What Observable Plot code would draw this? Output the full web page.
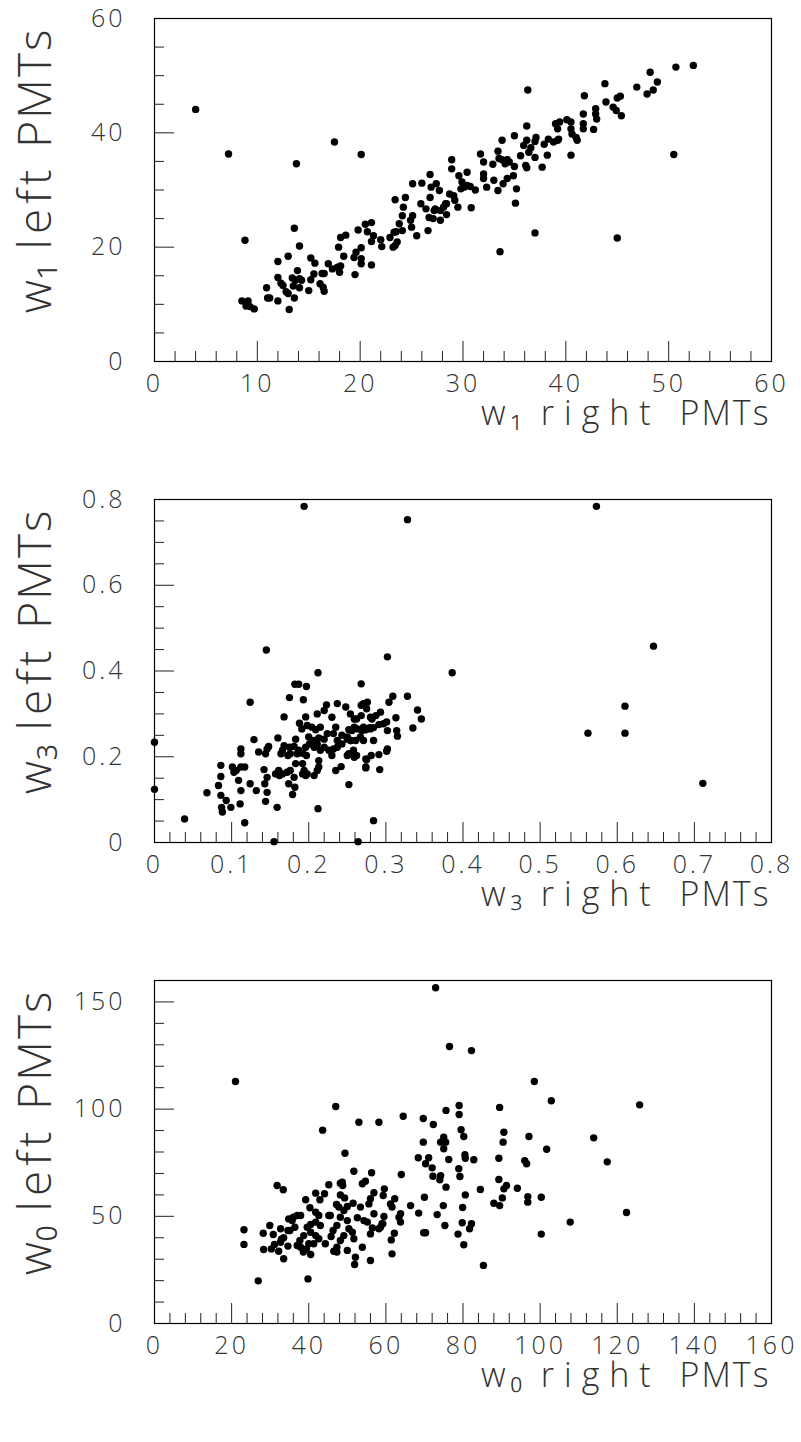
<!DOCTYPE html>
<html><head><meta charset="utf-8">
<script src="https://cdn.jsdelivr.net/npm/d3@7"></script>
<script src="https://cdn.jsdelivr.net/npm/@observablehq/plot@0.6"></script>
<style>body{margin:0;background:#fff} svg{display:block}</style>
</head><body><div id="chart"></div>
<script>
// ---- Panel 1: w1 ----
const w1Right = [4.0,7.2,8.8,17.5,20.1,13.8,13.6,14.1,23.4,
8.5,9.1,8.9,9.3,9.7,10.9,11.0,11.2,12.0,12.0,12.0,12.3,12.5,12.8,13.0,13.1,13.0,13.4,13.7,13.5,13.6,13.9,14.1,14.3,14.1,15.0,15.2,15.2,15.5,15.6,16.1,16.4,16.5,16.3,16.5,16.9,17.3,17.8,18.0,18.1,17.9,18.1,18.6,18.4,19.4,19.5,19.6,19.8,20.1,20.1,20.1,20.5,20.7,21.1,21.1,21.1,21.3,22.0,22.1,22.9,23.4,23.5,23.8,
23.3,23.6,23.2,24.1,24.2,24.9,25.1,25.5,25.9,26.6,26.7,
52.4,50.7,48.2,48.9,48.5,47.9,46.9,43.8,41.8,36.3,45.0,45.3,44.6,44.9,45.4,43.9,42.9,42.9,43.0,41.7,41.7,41.7,42.7,40.1,40.5,39.4,39.0,39.2,40.5,40.6,41.0,41.1,40.5,36.2,39.2,39.3,38.3,38.8,37.9,38.2,37.7,
37.1,37.0,36.2,35.9,36.6,36.4,37.0,36.1,36.2,35.6,35.0,33.8,33.4,33.5,
33.8,34.3,34.1,34.5,35.0,34.9,35.2,35.1,34.3,33.9,33.4,33.0,32.9,32.0,31.7,32.0,32.0,32.3,
31.2,30.7,30.4,30.1,29.8,29.9,29.6,28.9,28.9,30.4,30.8,29.5,29.2,29.1,28.7,28.4,28.1,27.8,27.8,27.2,26.8,26.9,26.8,27.4,27.7,26.0,25.1,24.4,24.1,25.0,26.4,27.1,27.3,28.4,28.3,
33.6,37.0,45.0,50.5];
const w1Left = [44.1,36.3,21.2,38.4,36.2,34.6,23.3,20.2,28.3,
10.6,10.6,9.7,9.6,9.2,12.9,11.1,11.1,17.5,10.6,14.7,13.7,13.3,12.2,11.9,9.1,18.4,14.6,14.2,13.2,11.1,15.9,14.5,14.2,12.9,12.4,18.1,14.3,15.3,17.2,13.6,13.0,12.3,15.4,15.4,17.1,16.2,16.5,15.6,16.7,20.0,21.7,22.1,18.4,18.2,15.2,19.1,23.0,19.9,18.0,17.1,24.0,22.7,24.3,21.0,16.9,22.0,21.3,20.1,21.7,20.3,22.7,24.1,
22.6,20.9,20.0,25.5,27.0,24.7,25.5,22.0,27.6,22.9,25.2,
51.8,51.5,50.6,48.9,47.5,46.8,48.0,48.6,46.5,47.5,46.1,46.4,44.5,43.9,43.0,45.4,44.2,43.3,42.4,43.3,41.6,40.7,40.6,42.3,41.9,41.9,41.6,40.7,40.7,39.8,39.2,38.7,36.1,41.2,38.7,38.9,38.9,38.4,38.0,36.1,34.0,
39.2,38.5,38.7,37.8,37.4,36.6,35.7,34.3,33.9,36.0,39.5,38.7,36.8,35.5,
35.3,35.3,34.6,34.9,34.1,32.5,30.2,27.7,32.0,31.1,29.9,31.7,34.5,34.9,36.3,32.8,32.0,30.5,
30.0,30.6,30.8,30.5,30.2,31.4,32.5,33.7,35.3,33.1,26.9,27.0,28.2,29.0,29.3,27.6,27.0,26.4,24.7,26.4,28.7,30.5,32.7,31.1,29.9,31.2,31.1,28.7,22.9,23.5,26.7,25.0,26.7,25.7,27.6,
19.2,22.5,21.6,36.2];
const w1XTicks = [0,10,20,30,40,50,60];
const w1XMinor = [2,4,6,8,12,14,16,18,22,24,26,28,32,34,36,38,42,44,46,48,52,54,56,58];
const w1YTicks = [0,20,40,60];
const w1YMinor = [5,10,15,25,30,35,45,50,55];

// ---- Panel 2: w3 ----
const w3Right = [0.194,0.145,0.212,0.302,0.000,0.000,0.039,0.117,0.212,0.155,0.264,0.284,0.252,
0.328,0.573,0.386,0.647,0.610,0.562,0.610,0.711,0.328,0.341,0.346,0.335,
0.268,0.182,0.187,0.197,0.175,0.193,0.124,0.168,0.196,
0.211,0.220,0.223,0.230,0.237,0.248,0.254,0.259,0.268,0.271,0.276,0.280,0.275,
0.188,0.191,0.198,0.204,0.209,0.215,0.200,0.207,0.213,0.220,0.224,0.232,0.235,0.237,0.243,0.250,0.256,0.263,0.271,0.254,0.261,0.271,0.280,
0.160,0.183,0.181,0.175,0.173,0.176,0.185,0.187,0.192,0.197,0.196,0.201,0.207,0.211,0.215,0.220,0.226,0.232,0.230,0.237,0.243,0.250,0.258,0.262,0.274,0.274,
0.129,0.135,0.144,0.148,0.146,0.164,0.168,0.166,
0.183,0.192,0.194,0.198,0.207,0.211,0.213,0.213,0.192,0.196,
0.161,0.166,0.172,0.176,0.181,0.174,0.179,0.182,0.162,0.157,
0.142,0.146,0.143,0.146,0.144,0.159,0.132,0.124,0.112,0.109,0.106,0.111,0.103,0.101,0.112,0.117,0.112,0.112,0.099,0.093,0.086,0.087,0.088,0.083,0.086,0.086,0.068,
0.309,0.304,0.293,0.287,0.282,0.313,0.301,0.297,0.291,0.302,0.314,0.315,0.284,0.279,0.274,0.269,0.267,0.284,0.302,0.301,0.291,0.281,0.275,0.274,0.292,0.259,0.252,0.255,0.250,0.252,0.259,0.262,0.268,0.242,0.235];
const w3Left = [0.784,0.449,0.396,0.433,0.234,0.124,0.055,0.046,0.079,0.002,0.002,0.051,0.135,
0.753,0.784,0.396,0.458,0.318,0.255,0.255,0.138,0.341,0.309,0.288,0.267,
0.370,0.369,0.369,0.364,0.338,0.333,0.327,0.293,0.293,
0.300,0.308,0.321,0.292,0.324,0.316,0.300,0.288,0.320,0.324,0.327,0.292,0.312,
0.278,0.265,0.273,0.269,0.263,0.269,0.246,0.238,0.244,0.241,0.254,0.254,0.269,0.238,0.250,0.246,0.261,0.265,0.269,0.238,0.238,0.238,0.265,
0.244,0.241,0.224,0.222,0.203,0.207,0.207,0.215,0.208,0.203,0.222,0.230,0.222,0.230,0.215,0.222,0.215,0.218,0.203,0.222,0.230,0.203,0.215,0.203,0.195,0.176,
0.240,0.211,0.207,0.224,0.218,0.207,0.226,0.215,
0.184,0.184,0.168,0.160,0.156,0.168,0.176,0.191,0.160,0.156,
0.168,0.160,0.164,0.168,0.152,0.137,0.112,0.129,0.156,0.160,
0.170,0.152,0.137,0.117,0.096,0.082,0.121,0.137,0.121,0.145,0.168,0.090,0.164,0.176,0.176,0.176,0.207,0.218,0.082,0.098,0.110,0.082,0.071,0.133,0.154,0.180,0.116,
0.341,0.327,0.304,0.296,0.288,0.291,0.281,0.277,0.275,0.261,0.261,0.248,0.268,0.268,0.263,0.261,0.246,0.238,0.218,0.213,0.205,0.203,0.193,0.174,0.170,0.199,0.207,0.238,0.241,0.263,0.269,0.288,0.296,0.177,0.168];
const w3XTicks = [0,0.1,0.2,0.3,0.4,0.5,0.6,0.7,0.8];
const w3XMinor = [0.02,0.04,0.06,0.08,0.12,0.14,0.16,0.18,0.22,0.24,0.26,0.28,0.32,0.34,0.36,0.38,0.42,0.44,0.46,0.48,0.52,0.54,0.56,0.58,0.62,0.64,0.66,0.68,0.72,0.74,0.76,0.78];
const w3YTicks = [0,0.2,0.4,0.6,0.8];
const w3YMinor = [0.05,0.1,0.15,0.25,0.3,0.35,0.45,0.5,0.55,0.65,0.7,0.75];

// ---- Panel 3: w0 ----
const w0Right = [21.0,23.2,23.2,26.9,39.8,47.0,43.6,53.0,58.2,49.4,31.8,33.4,
64.5,68.4,51.7,56.3,64.0,
48.7,48.8,53.9,54.7,56.9,59.6,59.3,62.3,61.2,61.6,66.4,68.5,63.8,63.4,63.8,
41.8,44.1,42.9,39.2,40.3,41.8,42.6,45.2,45.6,47.2,48.2,49.3,47.8,49.1,51.5,50.0,53.4,52.6,55.6,56.0,56.9,55.2,54.3,59.5,59.2,58.2,56.0,
34.8,35.7,37.0,37.9,34.6,36.4,32.7,29.9,28.2,30.8,33.5,32.7,31.1,30.3,32.2,28.3,33.5,34.6,37.0,37.7,38.7,39.6,40.5,41.8,43.0,40.5,41.8,42.6,41.3,40.0,39.4,38.6,40.5,37.9,
44.3,45.8,46.3,47.3,48.2,50.0,50.4,51.3,49.1,48.2,47.3,46.5,47.3,50.0,51.7,52.1,51.9,53.9,56.5,58.6,59.0,61.6,61.4,62.2,56.0,
32.9,35.1,36.0,45.2,48.2,
98.5,102.9,125.8,89.5,79.0,79.0,75.6,69.7,72.3,79.5,80.2,90.6,90.4,97.1,113.9,75.0,74.2,75.5,75.0,69.7,101.7,
71.1,70.3,72.0,76.3,80.5,80.6,82.8,89.3,96.0,96.5,117.4,
78.9,79.2,74.2,74.0,72.2,75.6,84.5,89.3,90.6,91.3,90.2,94.1,80.6,70.0,96.8,96.8,100.3,88.0,89.5,73.3,74.9,79.9,
69.8,70.3,75.3,79.8,82.2,81.7,78.7,80.2,85.3,100.3,107.8,122.4,
72.9,76.5,82.2];
const w0Left = [112.9,43.7,36.9,19.9,20.8,101.2,90.2,93.9,93.9,79.4,64.4,62.4,
96.7,77.3,71.0,70.3,69.5,
65.9,64.4,65.2,66.4,61.0,62.8,59.7,58.2,55.8,54.3,55.0,51.5,51.2,49.6,47.3,
60.8,60.5,57.7,57.7,54.0,51.9,50.4,50.4,50.4,55.5,60.0,58.6,54.3,52.7,56.1,54.6,54.3,49.3,55.8,58.2,51.2,47.3,48.0,49.9,46.5,44.2,41.8,
48.8,48.0,50.4,50.4,43.4,44.9,44.2,45.7,42.1,41.5,40.0,37.9,36.9,34.8,33.7,34.5,30.2,36.1,36.4,38.7,41.0,44.9,46.2,47.3,45.7,42.6,41.0,39.5,37.2,37.2,34.8,33.3,32.2,35.6,
37.2,40.6,43.4,45.7,49.6,48.0,44.2,42.6,41.0,38.7,35.6,33.7,33.3,34.1,39.5,30.9,27.5,35.6,44.6,44.9,46.5,32.5,39.0,42.1,29.4,
39.3,43.4,49.6,64.7,65.4,
112.9,103.9,102.0,100.8,101.7,97.5,99.4,95.6,92.8,90.4,87.2,89.2,84.6,87.2,86.6,86.9,84.6,84.6,81.5,84.6,81.3,
77.3,74.5,72.6,76.5,78.7,77.1,76.4,77.1,76.0,74.5,75.4,
72.2,68.6,69.0,67.0,68.7,63.6,62.5,67.2,62.8,64.4,58.6,63.1,60.0,58.9,59.2,56.6,58.9,56.1,55.0,50.8,55.0,54.1,
42.3,42.3,45.7,47.0,46.5,44.2,41.7,36.7,27.1,41.7,47.3,51.8,
156.6,129.2,127.3];
const w0XTicks = [0,20,40,60,80,100,120,140,160];
const w0XMinor = [4,8,12,16,24,28,32,36,44,48,52,56,64,68,72,76,84,88,92,96,104,108,112,116,124,128,132,136,144,148,152,156];
const w0YTicks = [0,50,100,150];
const w0YMinor = [10,20,30,40,60,70,80,90,110,120,130,140];

const FONT = "'Open Sans', 'Noto Sans', Lato, sans-serif";

// split a title into word tspans with per-word letter spacing
function spaceWords(node, spacings) {
  d3.select(node).selectAll("text").each(function() {
    const el = d3.select(this);
    const words = el.text().split(" ");
    el.text(null);
    words.forEach((w, i) => {
      el.append("tspan")
        .attr("letter-spacing", spacings[i])
        .style("letter-spacing", spacings[i] + "px")
        .text(i < words.length - 1 ? w + " " : w);
    });
  });
}

function panel({xs, ys, xDomain, yDomain, xTicks, xMinor, yTicks, yMinor, xTitle, yTitle, height}) {
  const data = xs.map((x, i) => ({x, y: ys[i]}));
  const txt = {fill: "#333", fontSize: 25, fontWeight: 300, label: null, tickSize: 0, stroke: "none"};
  const svg = Plot.plot({
    width: 801, height,
    marginTop: 18, marginLeft: 154, marginRight: 30, marginBottom: height - 18 - 343,
    x: {domain: xDomain},
    y: {domain: yDomain},
    style: {fontFamily: FONT, color: "#000", background: "#fff"},
    marks: [
      Plot.axisX({ticks: xTicks, tickSize: -20, fill: "none", label: null, stroke: "#222"}),
      Plot.axisX({ticks: xMinor, tickSize: -10, fill: "none", label: null, stroke: "#222"}),
      Plot.axisY({ticks: yTicks, tickSize: -20, fill: "none", label: null, stroke: "#222"}),
      Plot.axisY({ticks: yMinor, tickSize: -10, fill: "none", label: null, stroke: "#222"}),
      Plot.axisX({...txt, ticks: xTicks, tickPadding: 13, tickFormat: d => String(d)}),
      Plot.axisY({...txt, ticks: yTicks, tickPadding: 29, tickFormat: d => String(d)}),
      Plot.frame({stroke: "#000", strokeWidth: 1.2}),
      Plot.dot(data, {x: "x", y: "y", r: 3.7, fill: "#000"}),
      Plot.text([xTitle], {text: d => d, frameAnchor: "bottom-right", textAnchor: "end", lineAnchor: "bottom", dx: -1, dy: 63, fontSize: 34, fontWeight: 300, fill: "#333"}),
      Plot.text([yTitle], {text: d => d, frameAnchor: "top-left", rotate: -90, textAnchor: "end", lineAnchor: "bottom", dx: -104, dy: 9, fontSize: 46, fontWeight: 300, fill: "#333"})
    ]
  });
  const s = d3.select(svg);
  s.selectAll('g[aria-label="x-axis tick label"] text, g[aria-label="y-axis tick label"] text')
    .attr("letter-spacing", 3);
  const titles = s.selectAll('g[aria-label="text"]').nodes();
  spaceWords(titles[0], [5, 10, 2]);
  spaceWords(titles[1], [1, 5, 2]);
  return svg;
}

const root = document.getElementById("chart");
root.append(panel({xs: w1Right, ys: w1Left, xDomain: [0, 60], yDomain: [0, 60], xTicks: w1XTicks, xMinor: w1XMinor, yTicks: w1YTicks, yMinor: w1YMinor, xTitle: "w\u2081 right PMTs", yTitle: "w\u2081 left PMTs", height: 481}));
root.append(panel({xs: w3Right, ys: w3Left, xDomain: [0, 0.8], yDomain: [0, 0.8], xTicks: w3XTicks, xMinor: w3XMinor, yTicks: w3YTicks, yMinor: w3YMinor, xTitle: "w\u2083 right PMTs", yTitle: "w\u2083 left PMTs", height: 481}));
root.append(panel({xs: w0Right, ys: w0Left, xDomain: [0, 160], yDomain: [0, 160], xTicks: w0XTicks, xMinor: w0XMinor, yTicks: w0YTicks, yMinor: w0YMinor, xTitle: "w\u2080 right PMTs", yTitle: "w\u2080 left PMTs", height: 480}));
</script>
</body></html>
